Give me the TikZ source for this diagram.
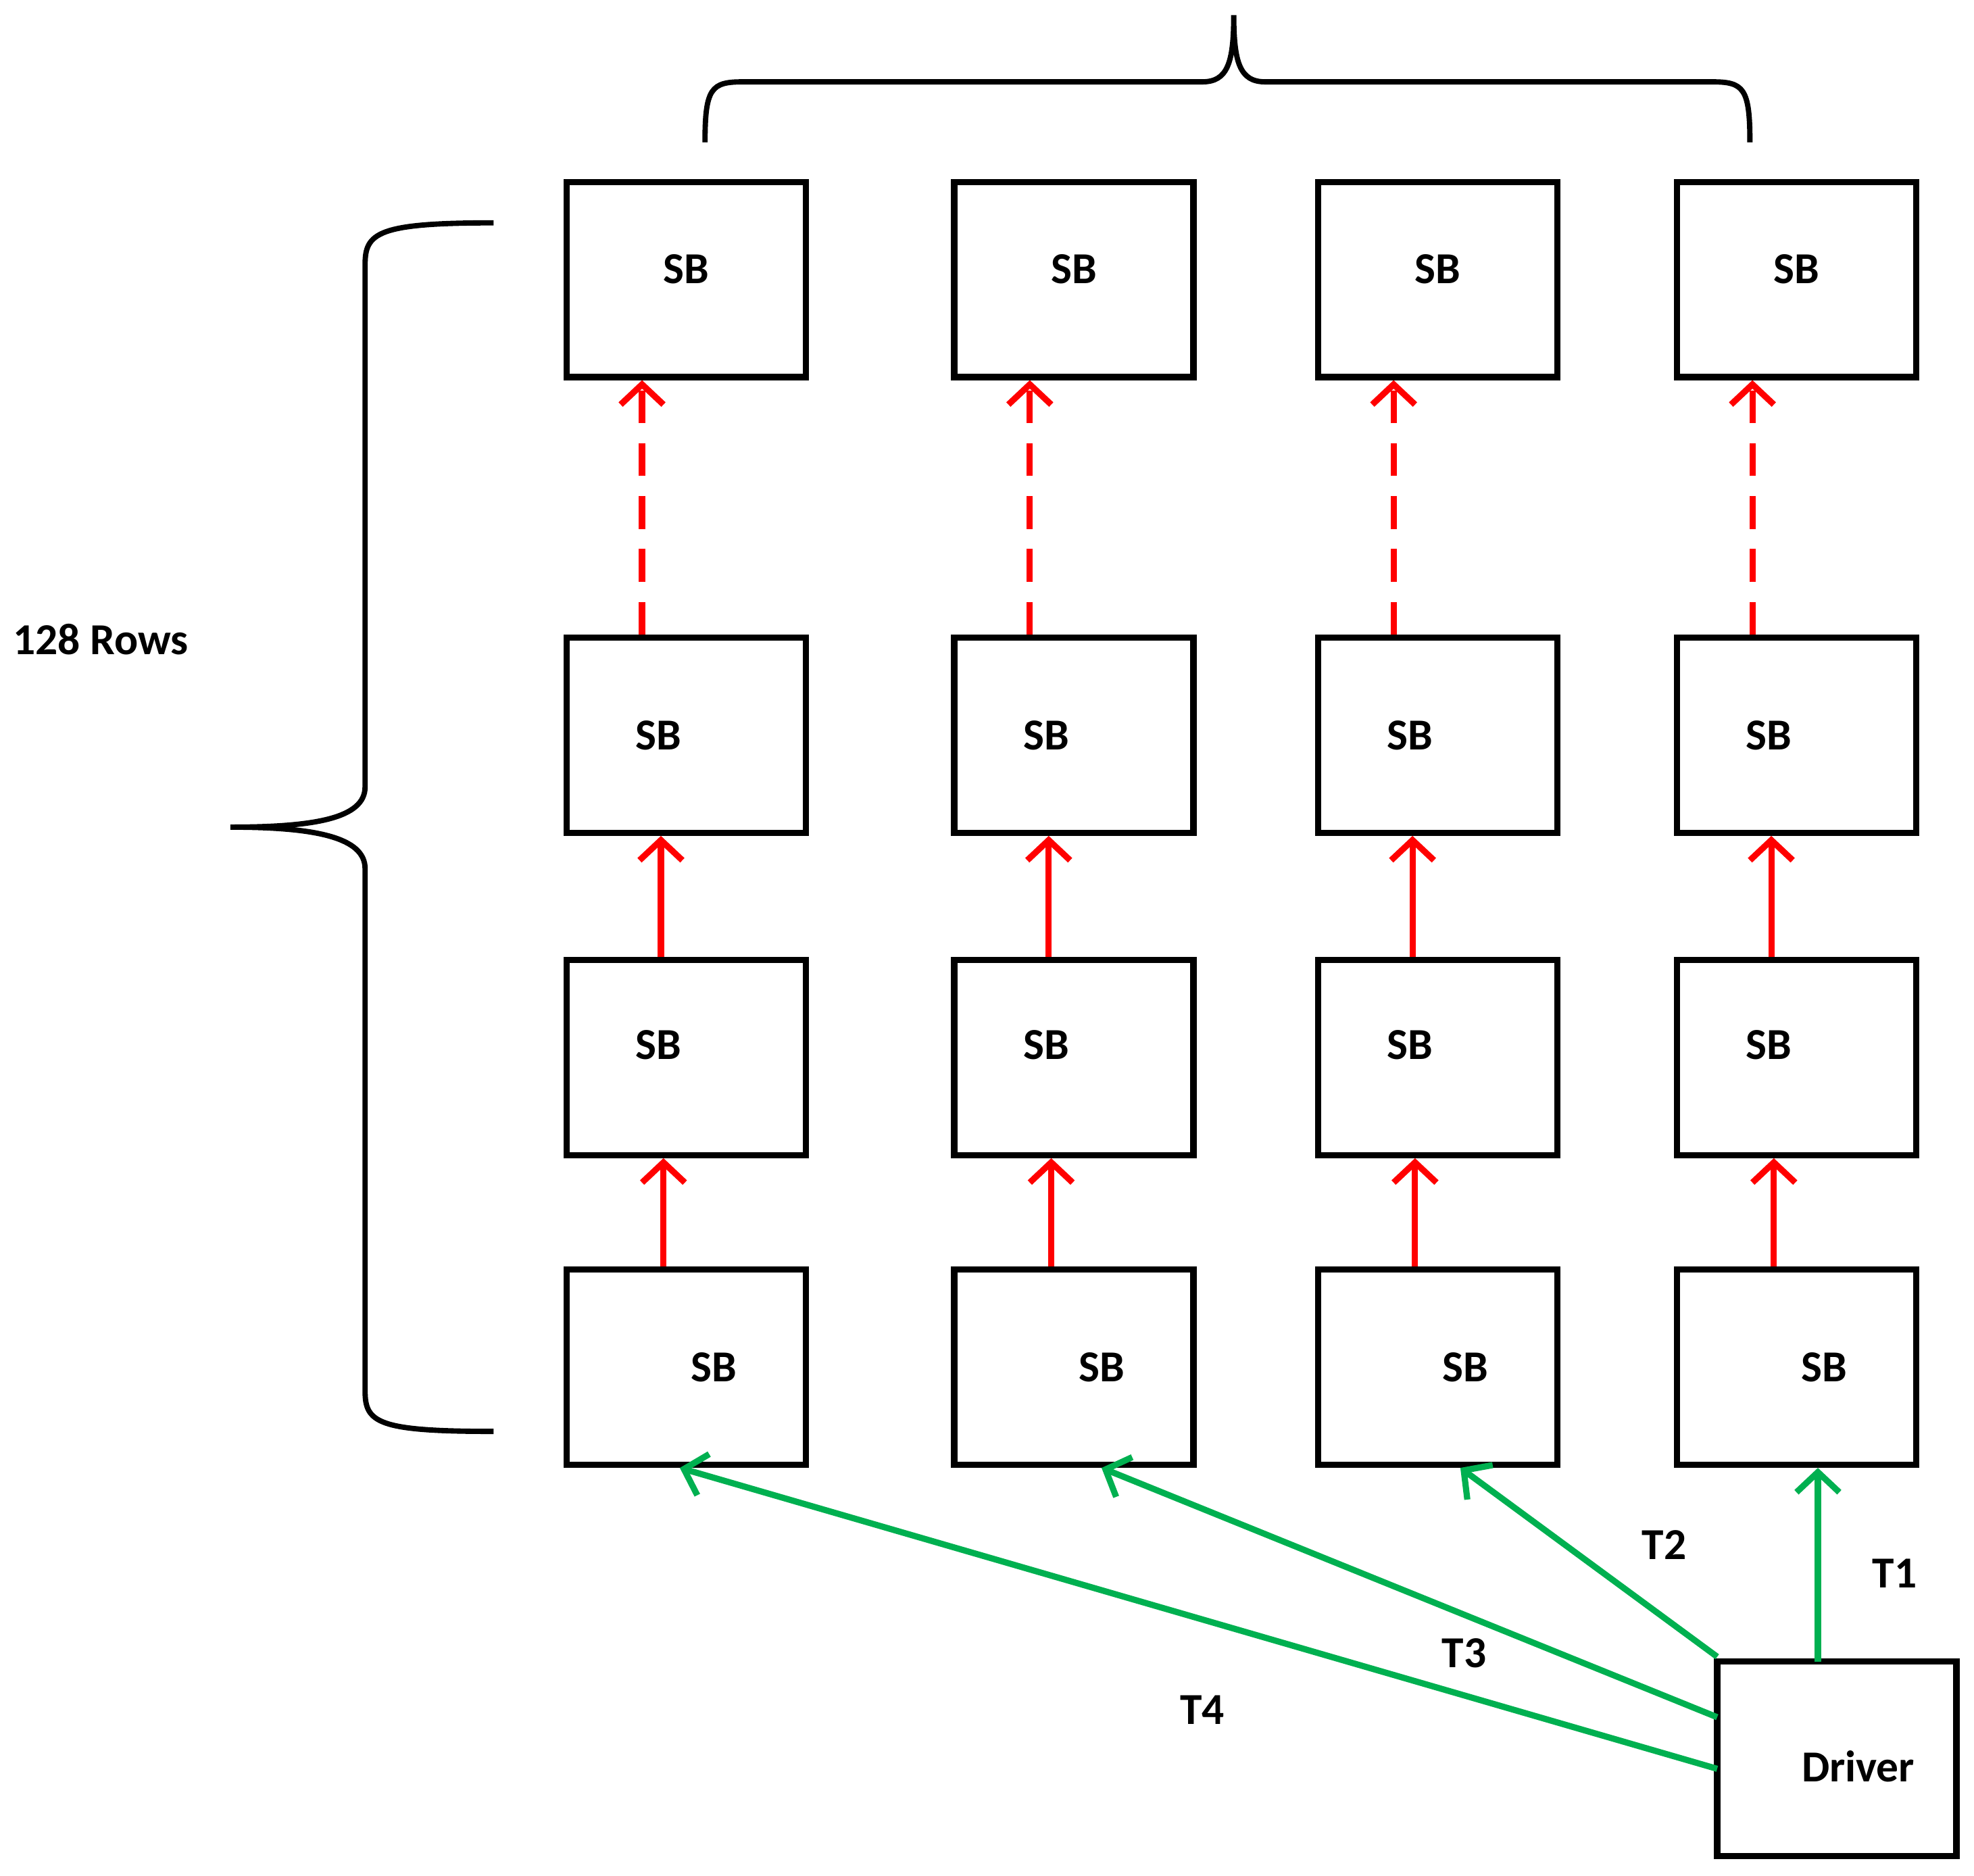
\documentclass[tikz,border=0pt]{standalone}
\usepackage{fontspec}
\setmainfont{Carlito}
\usetikzlibrary{positioning,arrows.meta}
\definecolor{feedgreen}{RGB}{0,176,80}
\tikzset{
  sb/.style={draw, line width=1.4pt, minimum width=19mm, minimum height=15.5mm, font=\bfseries\fontsize{10}{12}\selectfont, inner sep=0pt},
  up/.style={red, line width=1.4pt, -{Straight Barb[length=1.6mm,width=3.4mm,line width=1.4pt]}},
  feed/.style={feedgreen, line width=1.4pt, -{Straight Barb[length=1.6mm,width=3.4mm,line width=1.4pt]}},
  lbl/.style={font=\bfseries\fontsize{10}{12}\selectfont}
}
\begin{document}
\begin{tikzpicture}[x=0.1mm,y=-0.1mm]
\useasboundingbox (0,0) rectangle (1568,1490);
% grid of SB boxes
\foreach \c/\x in {1/545,2/853,3/1142,4/1427}{
  \node[sb] (b1\c) at (\x,222) {};
  \node[sb] (b2\c) at (\x,584) {};
  \node[sb] (b3\c) at (\x,840) {};
  \node[sb] (b4\c) at (\x,1086) {};
  \node[lbl] at (\x,214) {SB};
  \node[lbl] at ([xshift=-2.2mm]b2\c.center) {SB};
  \node[lbl] at ([xshift=-2.2mm,yshift=1mm]b3\c.center) {SB};
  \node[lbl] at ([xshift=2.2mm]b4\c.center) {SB};
  \draw[up] ([xshift=-1.8mm]b4\c.north) -- ([xshift=-1.8mm]b3\c.south);
  \draw[up] ([xshift=-2mm]b3\c.north) -- ([xshift=-2mm]b2\c.south);
  \draw[up, dash pattern=on 2.6mm off 1.6mm] ([xshift=-3.5mm]b2\c.north) -- ([xshift=-3.5mm]b1\c.south);
}
\node[sb] (drv) at (1459,1397) {};
\node[lbl] at (1476,1403) {Driver};
% driver feeds
\coordinate (d1) at (1444,1320);
\coordinate (d2) at (1364,1316);
\coordinate (d3) at (1364,1364);
\coordinate (d4) at (1364,1405);
\draw[feed] (d1) -- (b44.south -| d1);
\draw[feed] (d2) -- ([xshift=1.8mm]b43.south);
\draw[feed] (d3) -- ([xshift=2.2mm]b42.south);
\draw[feed] (d4) -- ([xshift=-0.5mm]b41.south);
\node[lbl] at (1505,1250) {T1};
\node[lbl] at (1322,1227) {T2};
\node[lbl] at (1163,1313) {T3};
\node[lbl] at (955,1358) {T4};
% braces
\draw[line width=1.2pt] (392,177) .. controls (300,177) and (290,185) .. (290,210)
  -- (290,625) .. controls (290,650) and (250,657) .. (183,657)
  (290,690) .. controls (290,665) and (250,657) .. (183,657)
  (290,690) -- (290,1105) .. controls (290,1130) and (300,1137) .. (392,1137);
\draw[line width=1.2pt] (560,113) .. controls (560,70) and (565,65) .. (590,65)
  -- (955,65) .. controls (975,65) and (980,50) .. (980,12)
  .. controls (980,50) and (985,65) .. (1005,65)
  -- (1360,65) .. controls (1385,65) and (1390,70) .. (1390,113);
\node[lbl] at (80,508) {128 Rows};
\end{tikzpicture}
\end{document}
